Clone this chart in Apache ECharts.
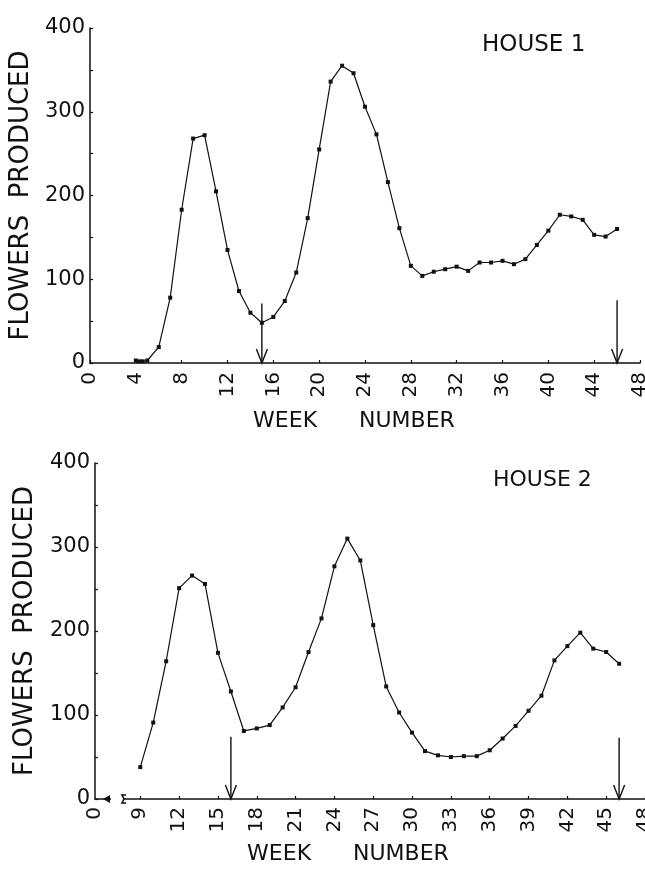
<!DOCTYPE html>
<html>
<head>
<meta charset="utf-8">
<script src="https://cdn.jsdelivr.net/npm/echarts@6/dist/echarts.min.js"></script>
<style>
html,body{margin:0;padding:0;background:#fff;}
#chart{width:645px;height:869px;}
</style>
</head>
<body>
<div id="chart"></div>
<script>
// ---- House 1 data (week number, flowers produced) ----
const house1Weeks = [4, 4.3, 4.6, 5, 6, 7, 8, 9, 10, 11, 12, 13, 14, 15, 16, 17, 18, 19, 20, 21, 22, 23, 24, 25, 26, 27, 28, 29, 30, 31, 32, 33, 34, 35, 36, 37, 38, 39, 40, 41, 42, 43, 44, 45, 46];
const house1Flowers = [3, 2, 2, 3, 19, 78, 183, 268, 272, 205, 135, 86, 60, 48, 55, 74, 108, 173, 255, 336, 355, 346, 306, 273, 216, 161, 116, 104, 109, 112, 115, 110, 120, 120, 122, 118, 124, 141, 158, 177, 175, 171, 153, 151, 160];
const house1ArrowWeeks = [15, 46];
const house1ArrowFrom = [71, 75];

// ---- House 2 data ----
const house2Weeks = [9, 10, 11, 12, 13, 14, 15, 16, 17, 18, 19, 20, 21, 22, 23, 24, 25, 26, 27, 28, 29, 30, 31, 32, 33, 34, 35, 36, 37, 38, 39, 40, 41, 42, 43, 44, 45, 46];
const house2Flowers = [38, 91, 164, 251, 266, 256, 174, 128, 81, 84, 88, 109, 133, 175, 215, 277, 310, 284, 207, 134, 103, 79, 57, 52, 50, 51, 51, 58, 72, 87, 105, 123, 165, 182, 198, 179, 175, 161];
const house2ArrowWeeks = [16, 46];
const house2ArrowFrom = [74, 73];

// ---- axis ticks ----
const house1TickStep = 4;
const house2Origin = 5.5;          // position of the broken-axis "0"
const house2TickWeeks = [9, 12, 15, 18, 21, 24, 27, 30, 33, 36, 39, 42, 45, 48];
const yTickStep = 50;

const INK = '#111';
const FONT = 'DejaVu Sans';

function pairs(xs, ys) { return xs.map((x, i) => [x, ys[i]]); }

function arrowSeries(weeks, from, idx) {
  return {
    type: 'custom',
    xAxisIndex: idx, yAxisIndex: idx,
    data: pairs(weeks, from),
    silent: true,
    z: 5,
    renderItem: function (params, api) {
      const p0 = api.coord([api.value(0), api.value(1)]);
      const p1 = api.coord([api.value(0), 0]);
      return {
        type: 'group',
        children: [
          { type: 'line', shape: { x1: p0[0], y1: p0[1], x2: p1[0], y2: p1[1] },
            style: { stroke: INK, lineWidth: 1.4 } },
          { type: 'polyline', shape: { points: [[p1[0] - 5.5, p1[1] - 14], [p1[0], p1[1]], [p1[0] + 5.5, p1[1] - 14]] },
            style: { stroke: INK, lineWidth: 1.4, fill: null } }
        ]
      };
    }
  };
}

// broken-axis marks on House 2 x axis, placed through the axis scale
function breakSeries(idx) {
  return {
    type: 'custom',
    xAxisIndex: idx, yAxisIndex: idx,
    data: [[7.2, 0]],
    silent: true,
    z: 6,
    renderItem: function (params, api) {
      const p = api.coord([api.value(0), 0]);
      const x = p[0], y = p[1];
      return {
        type: 'group',
        children: [
          { type: 'rect', shape: { x: x - 6, y: y - 3, width: 12, height: 6 }, style: { fill: '#fff' } },
          { type: 'polygon', shape: { points: [[x - 14, y], [x - 7, y - 4], [x - 7, y + 4]] }, style: { fill: INK } },
          { type: 'polyline', shape: { points: [[x + 9, y - 4], [x + 5, y - 4], [x + 7, y], [x + 5, y + 4], [x + 9, y + 4]] },
            style: { stroke: INK, lineWidth: 1.6, fill: null } }
        ]
      };
    }
  };
}

const yAxisCommon = {
  type: 'value', min: 0, max: 400, interval: yTickStep,
  name: 'FLOWERS  PRODUCED', nameLocation: 'middle',
  nameTextStyle: { fontFamily: FONT, fontSize: 26, color: INK },
  axisLine: { show: true, lineStyle: { color: INK, width: 1.5 } },
  axisTick: { show: true, inside: true, length: 3, lineStyle: { color: INK, width: 1.2 } },
  axisLabel: { fontFamily: FONT, fontSize: 21, color: INK, margin: 5,
    formatter: v => (v % 100 === 0 ? String(v) : '') },
  splitLine: { show: false }
};

const xLabelCommon = { fontFamily: FONT, fontSize: 20, color: INK, rotate: 90, margin: 9, padding: [0, 0, 14, 0] };

const option = {
  backgroundColor: '#fff',
  animation: false,
  grid: [
    { left: 90, right: 5, top: 28, height: 335, containLabel: false, outerBoundsMode: 'none' },
    { left: 95, right: 0, top: 463, height: 336, containLabel: false, outerBoundsMode: 'none' }
  ],
  xAxis: [
    { type: 'value', gridIndex: 0, min: 0, max: 48, interval: house1TickStep,
      name: 'WEEK      NUMBER', nameLocation: 'middle', nameGap: 47,
      nameTextStyle: { fontFamily: FONT, fontSize: 22, color: INK, padding: [0, 22, 0, 0] },
      axisLine: { show: true, onZero: false, lineStyle: { color: INK, width: 1.5 } },
      axisTick: { show: true, inside: true, length: 3, lineStyle: { color: INK, width: 1.2 } },
      axisLabel: Object.assign({}, xLabelCommon),
      splitLine: { show: false } },
    { type: 'value', gridIndex: 1, min: house2Origin, max: 48,
      name: 'WEEK      NUMBER', nameLocation: 'middle', nameGap: 44,
      nameTextStyle: { fontFamily: FONT, fontSize: 22, color: INK, padding: [0, 44, 0, 0] },
      axisLine: { show: true, onZero: false, lineStyle: { color: INK, width: 1.5 } },
      axisTick: { show: true, inside: true, length: 3, customValues: house2TickWeeks, lineStyle: { color: INK, width: 1.2 } },
      axisLabel: Object.assign({}, xLabelCommon, { margin: 8,
        customValues: [house2Origin].concat(house2TickWeeks),
        formatter: v => (v === house2Origin ? '0' : String(v)) }),
      splitLine: { show: false } }
  ],
  yAxis: [
    Object.assign({}, yAxisCommon, { gridIndex: 0, nameGap: 52 }),
    Object.assign({}, yAxisCommon, { gridIndex: 1, nameGap: 57 })
  ],
  graphic: [
    { type: 'text', left: 482, top: 34, style: { text: 'HOUSE 1', fontFamily: FONT, fontSize: 23, fill: INK } },
    { type: 'text', left: 493, top: 469, style: { text: 'HOUSE 2', fontFamily: FONT, fontSize: 22, fill: INK } }
  ],
  series: [
    { type: 'line', xAxisIndex: 0, yAxisIndex: 0, data: pairs(house1Weeks, house1Flowers),
      symbol: 'rect', symbolSize: 4, showAllSymbol: true,
      lineStyle: { color: INK, width: 1.2 }, itemStyle: { color: INK } },
    { type: 'line', xAxisIndex: 1, yAxisIndex: 1, data: pairs(house2Weeks, house2Flowers),
      symbol: 'rect', symbolSize: 4, showAllSymbol: true,
      lineStyle: { color: INK, width: 1.2 }, itemStyle: { color: INK } },
    arrowSeries(house1ArrowWeeks, house1ArrowFrom, 0),
    arrowSeries(house2ArrowWeeks, house2ArrowFrom, 1),
    breakSeries(1)
  ]
};

const chart = echarts.init(document.getElementById('chart'), null, { renderer: 'canvas' });
chart.setOption(option);
</script>
</body>
</html>
